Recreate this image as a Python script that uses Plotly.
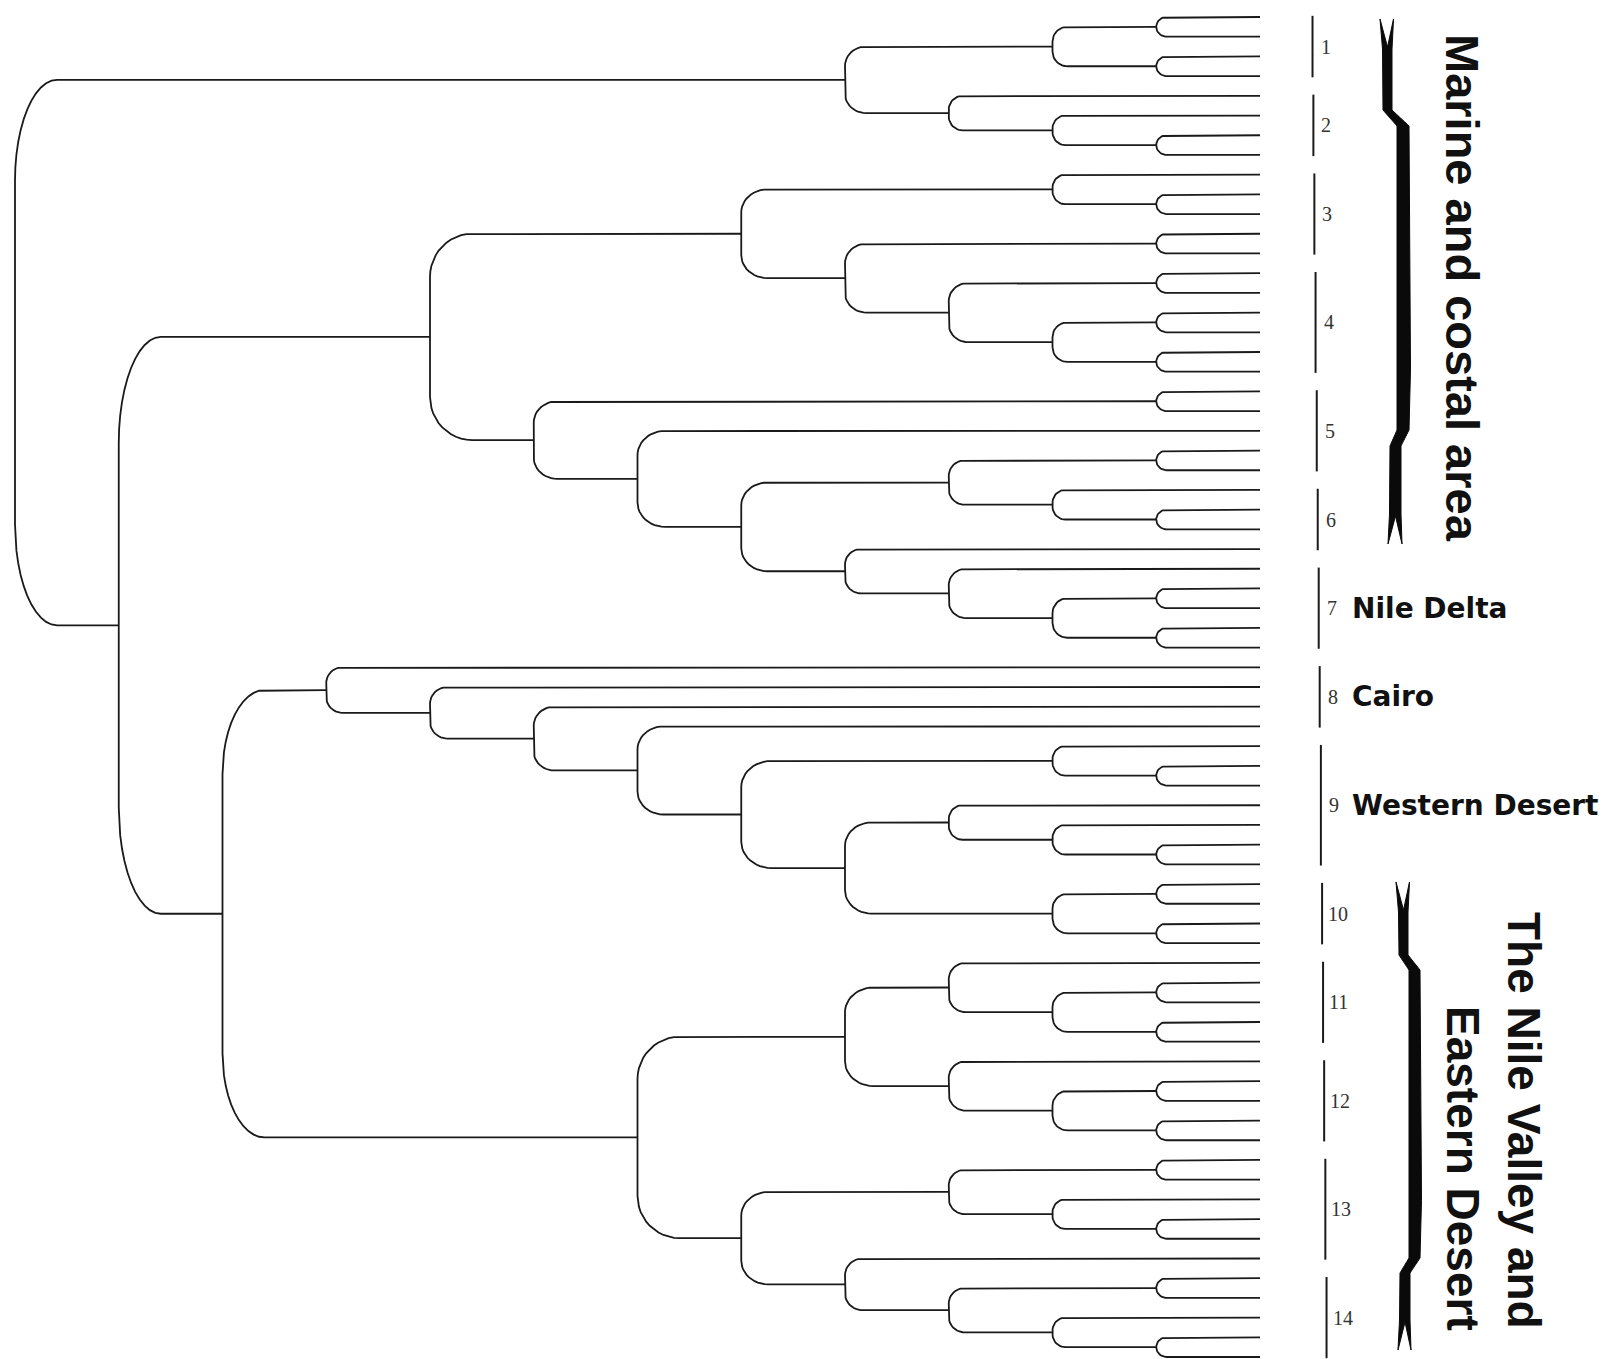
import math
import plotly.graph_objects as go

# ---------------- data ----------------
# Dendrogram topology (Newick-like). Leaves are numbered top->bottom (0..68);
# the number after ")" is the clustering level of that internal node.
CLADE_A = "(((0,1)1,(2,3)1)2,(4,(5,(6,7)1)2)3)4"
CLADE_B = "((8,(9,10)1)2,((11,12)1,((13,14)1,((15,16)1,(17,18)1)2)3)4)5"
CLADE_C = "((19,20)1,(21,(((22,23)1,(24,(25,26)1)2)3,(27,(28,((29,30)1,(31,32)1)2)3)4)5)6)7"
CLADE_D = "(33,(34,(35,(36,((37,(38,39)1)2,((40,(41,(42,43)1)2)3,((44,45)1,(46,47)1)2)4)5)6)7)8)9"
CLADE_E = ("(((48,((49,50)1,(51,52)1)2)3,(53,((54,55)1,(56,57)1)2)3)4,"
           "(((58,59)1,(60,(61,62)1)2)3,(63,((64,65)1,(66,(67,68)1)2)3)4)5)6")
TREE = "(" + CLADE_A + ",((" + CLADE_B + "," + CLADE_C + ")8,(" + CLADE_D + "," + CLADE_E + ")10)11)12"

GROUP_LABELS = ["1", "2", "3", "4", "5", "6", "7", "8", "9", "10", "11", "12", "13", "14"]
GROUP_SIZES = [4, 4, 5, 6, 5, 4, 5, 4, 7, 4, 5, 5, 6, 5]
REGION_GROUPS = ["7", "8", "9"]
REGION_NAMES = ["Nile Delta", "Cairo", "Western Desert"]
BRACE_TEXT = ["Marine and costal area", "The Nile Valley and", "Eastern Desert"]

# ---------------- geometry ----------------
W, H = 1618, 1359
OFF = 8                          # page body margin (screen px)
X0_PX, SX = 1260.0, 103.75       # screen pixel of level 0, pixels per level
Y0_PX, SY = 17.0, 19.706         # screen pixel of leaf 0, pixels per leaf


def parse(s):
    pos = 0

    def node():
        nonlocal pos
        if s[pos] == "(":
            pos += 1
            kids = [node()]
            while s[pos] == ",":
                pos += 1
                kids.append(node())
            pos += 1
            st = pos
            while pos < len(s) and s[pos].isdigit():
                pos += 1
            return {"level": int(s[st:pos]), "kids": kids}
        st = pos
        while s[pos].isdigit():
            pos += 1
        return {"leaf": int(s[st:pos])}

    return node()


root = parse(TREE)
xs, ys = [], []


def layout(n):
    if "leaf" in n:
        return n["leaf"], 0
    pts = [layout(k) for k in n["kids"]]
    h = n["level"]
    (y1, h1), (y2, h2) = pts[0], pts[-1]
    half = (y2 - y1) * SY / 2
    ry = min(half, 0.34 * half + 8) / SY
    rx = min(42.0, 0.45 * half + 6) / SX
    px, py = [h1], [y1]
    for i in range(13):
        t = (math.pi / 2) * i / 12
        px.append(h - rx + rx * math.sin(t))
        py.append(y1 + ry - ry * math.cos(t))
    for i in range(13):
        t = (math.pi / 2) * i / 12
        px.append(h - rx + rx * math.cos(t))
        py.append(y2 - ry + ry * math.sin(t))
    px.append(h2)
    py.append(y2)
    xs.extend(px + [None])
    ys.extend(py + [None])
    for (yk, hk) in pts[1:-1]:
        xs.extend([hk, h, None])
        ys.extend([yk, yk, None])
    return (y1 + y2) / 2, h


layout(root)

fig = go.Figure()
fig.add_trace(go.Scatter(x=xs, y=ys, mode="lines",
                         line=dict(color="#1a1a1a", width=1.8),
                         hoverinfo="skip", showlegend=False))


def dx(px):
    return (X0_PX - px) / SX


def dy(py):
    return (py - Y0_PX) / SY


def pxp(px):  # screen px -> paper x
    return (px - OFF) / W


shapes, annots = [], []

start = 0
group_span = {}
for lab, n in zip(GROUP_LABELS, GROUP_SIZES):
    a, b = start, start + n - 1
    start += n
    group_span[lab] = (a, b)
    mid_px = Y0_PX + SY * (a + b) / 2
    bx = 1312 + 15 * mid_px / H
    shapes.append(dict(type="line", xref="paper", yref="y",
                       x0=pxp(bx), x1=pxp(bx), y0=a - 0.06, y1=b + 0.06,
                       line=dict(color="#1a1a1a", width=2)))
    gap = 6 if len(lab) == 1 else 4
    annots.append(dict(x=pxp(bx + gap), xref="paper", y=(a + b) / 2, yref="y",
                       text=lab, showarrow=False, xanchor="left", yanchor="middle",
                       font=dict(family="Liberation Serif", size=20, color="#333333")))

for g, name in zip(REGION_GROUPS, REGION_NAMES):
    a, b = group_span[g]
    annots.append(dict(x=pxp(1350), xref="paper", y=(a + b) / 2, yref="y",
                       text="<b>" + name + "</b>", showarrow=False,
                       xanchor="left", yanchor="middle",
                       font=dict(family="DejaVu Sans", size=28, color="#111111")))


def smooth(a, b, n=6):
    return [a + (b - a) * (3 * (i / n) ** 2 - 2 * (i / n) ** 3) for i in range(1, n)]


def brace(yt, y1, y2, y3, y4, yb, up, mid, low):
    left = [(up[0] - 3, yt), (up[0] - 0.5, yt + 30), (up[0], y1)]
    for t in smooth(0, 1):
        left.append((up[0] + (mid[0] - up[0]) * t, y1 + (y2 - y1) * t))
    left += [(mid[0], y2), (mid[0], y3)]
    for t in smooth(0, 1):
        left.append((mid[0] + (low[0] - mid[0]) * t, y3 + (y4 - y3) * t))
    left += [(low[0], y4), (low[0] - 0.5, yb - 30), (low[0] - 2, yb)]
    right = [(low[1] + 1, yb), (low[1], yb - 30), (low[1], y4)]
    for t in smooth(0, 1):
        right.append((low[1] + (mid[1] - low[1]) * t, y4 + (y3 - y4) * t))
    right += [(mid[1], y3), (mid[1] + 1.5, (y2 + y3) / 2 + (y3 - y2) * 0.3), (mid[1], y2)]
    for t in smooth(0, 1):
        right.append((mid[1] + (up[1] - mid[1]) * t, y2 + (y1 - y2) * t))
    right += [(up[1], y1), (up[1], yt + 30), (up[1] + 1.5, yt)]
    pts = left + [((low[0] + low[1]) / 2, yb - 28)] + right + [((up[0] + up[1]) / 2, yt + 28)]
    path = "M " + " L ".join(f"{dx(x):.5f},{dy(y):.5f}" for x, y in pts) + " Z"
    return dict(type="path", xref="x", yref="y", path=path,
                fillcolor="#0a0a0a", line=dict(color="#0a0a0a", width=1))


shapes.append(brace(19, 110, 126, 430, 446, 544, (1383, 1392), (1397, 1409), (1390, 1401)))
shapes.append(brace(882, 955, 970, 1258, 1273, 1350, (1399, 1408), (1409, 1420), (1400, 1410)))

annots.append(dict(x=pxp(1463), xref="paper", y=dy(288), yref="y", text="<b>" + BRACE_TEXT[0] + "</b>",
                   showarrow=False, textangle=90, xanchor="center", yanchor="middle",
                   font=dict(family="Liberation Sans", size=47, color="#111111")))
annots.append(dict(x=pxp(1524), xref="paper", y=dy(1120), yref="y", text="<b>" + BRACE_TEXT[1] + "</b>",
                   showarrow=False, textangle=90, xanchor="center", yanchor="middle",
                   font=dict(family="Liberation Sans", size=46, color="#111111")))
annots.append(dict(x=pxp(1463), xref="paper", y=dy(1168), yref="y", text="<b>" + BRACE_TEXT[2] + "</b>",
                   showarrow=False, textangle=90, xanchor="center", yanchor="middle",
                   font=dict(family="Liberation Sans", size=46, color="#111111")))

fig.update_layout(
    width=W, height=H, margin=dict(l=0, r=0, t=0, b=0),
    paper_bgcolor="white", plot_bgcolor="white",
    xaxis=dict(range=[dx(OFF), dx(W + OFF)], visible=False, fixedrange=True),
    yaxis=dict(range=[dy(H + OFF), dy(OFF)], visible=False, fixedrange=True),
    shapes=shapes, annotations=annots, showlegend=False,
)
fig.write_html("out.html")
